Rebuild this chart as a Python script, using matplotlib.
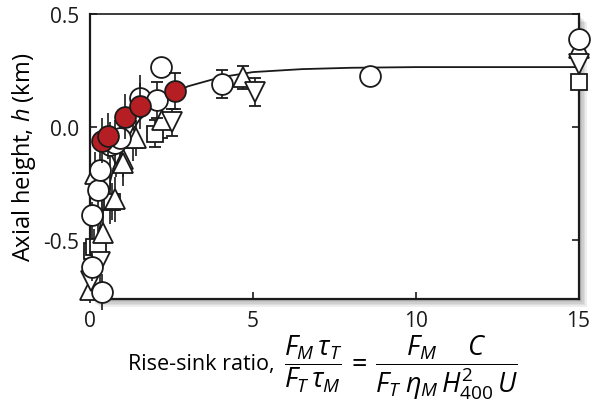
import matplotlib
matplotlib.use("Agg")
import matplotlib.pyplot as plt
from matplotlib.patches import Rectangle

plt.rcParams['font.family'] = ['Open Sans', 'DejaVu Sans']
plt.rcParams['axes.unicode_minus'] = False
plt.rcParams['mathtext.fontset'] = 'custom'
plt.rcParams['mathtext.rm'] = 'Open Sans'
plt.rcParams['mathtext.it'] = 'Open Sans:italic'

# fitted curve
curve_x = [0.05, 0.2, 0.4, 0.7, 1.0, 1.5, 2.0, 2.5, 3.0, 4.0, 5.0, 6.5, 8.0, 10.0, 15.0]
curve_y = [-0.76, -0.52, -0.36, -0.19, -0.08, 0.03, 0.10, 0.145, 0.18, 0.22, 0.243, 0.256, 0.262, 0.265, 0.265]

# open circles
circ_x = [0.37, 0.06, 0.06, 0.25, 0.3, 0.6, 0.75, 0.9, 1.53, 2.05, 2.18, 4.05, 8.6, 15.0]
circ_y = [-0.73, -0.62, -0.39, -0.28, -0.19, -0.08, -0.07, -0.05, 0.13, 0.12, 0.265, 0.19, 0.225, 0.39]
circ_err = [0.08, 0.06, 0.06, 0.08, 0.08, 0.1, 0.1, 0.08, 0.1, 0.08, 0.0, 0.06, 0.0, 0.0]

# squares
sq_x = [0.06, 0.1, 0.25, 0.37, 0.6, 0.67, 2.0, 15.0]
sq_y = [-0.55, -0.53, -0.53, -0.24, -0.33, -0.33, -0.03, 0.2]
sq_err = [0.1, 0.08, 0.1, 0.08, 0.1, 0.08, 0.06, 0.0]

# triangles up
tu_x = [0.0, 0.4, 0.15, 0.77, 1.0, 1.0, 1.3, 1.4, 2.2, 4.7, 15.0]
tu_y = [-0.72, -0.47, -0.21, -0.32, -0.14, -0.16, -0.05, -0.05, 0.03, 0.22, 0.35]
tu_err = [0.06, 0.1, 0.1, 0.1, 0.08, 0.1, 0.1, 0.08, 0.08, 0.05, 0.0]

# triangles down
td_x = [0.03, 0.3, 0.8, 2.5, 5.06, 15.0]
td_y = [-0.68, -0.6, -0.12, 0.02, 0.155, 0.28]
td_err = [0.06, 0.1, 0.1, 0.06, 0.06, 0.0]

# filled red circles
red_x = [0.35, 0.55, 1.07, 1.53, 2.6]
red_y = [-0.06, -0.04, 0.045, 0.093, 0.16]
red_err = [0.1, 0.1, 0.1, 0.1, 0.08]

fig = plt.figure(figsize=(6.02, 4.06), dpi=100)
ax = fig.add_axes([0.15, 0.262, 0.811, 0.701])

# soft drop shadow behind the frame
for i in range(5):
    off = 2 + i * 1.6
    fig.patches.append(Rectangle((0.15 + off / 602, 0.262 - off / 406), 0.811, 0.701,
                                 transform=fig.transFigure, facecolor='#555555',
                                 edgecolor='none', alpha=0.10, zorder=0))
ax.set_facecolor('white')
ax.set_zorder(1)

ax.plot(curve_x, curve_y, color='#1a1a1a', lw=1.3, zorder=2)


def draw(xs, ys, errs, marker, ms, fc, z):
    # error bars in the crowded part have no visible caps, the outer ones do
    for x, y, e in zip(xs, ys, errs):
        cap = 4 if (x > 1.8 and e > 0) else 0
        ax.errorbar([x], [y], yerr=[e], marker=marker, ms=ms, mfc=fc,
                    ecolor='#1a1a1a', elinewidth=1.2, capsize=cap, capthick=1.2,
                    linestyle='none', markeredgecolor='#1a1a1a', markeredgewidth=1.3,
                    clip_on=False, zorder=z)


draw(sq_x, sq_y, sq_err, 's', 11.5, 'white', 3)
draw(tu_x, tu_y, tu_err, '^', 14, 'white', 3)
draw(td_x, td_y, td_err, 'v', 14, 'white', 3)
draw(circ_x, circ_y, circ_err, 'o', 15, 'white', 4)
draw(red_x, red_y, red_err, 'o', 15, '#b51f24', 5)

ax.set_xlim(0, 15)
ax.set_ylim(-0.76, 0.5)
ax.set_xticks([0, 5, 10, 15])
ax.set_yticks([-0.5, 0.0, 0.5])
ax.set_yticklabels(['-0.5', '0.0', '0.5'])
ax.tick_params(direction='in', length=5, width=1.2, labelsize=15, pad=8,
               right=True, top=False, colors='#1a1a1a')
for s in ax.spines.values():
    s.set_linewidth(1.6)
    s.set_color('#1a1a1a')
ax.spines['top'].set_linewidth(1.2)

ax.set_ylabel('Axial height, $h$ (km)', fontsize=17, labelpad=4)

fig.text(0.213, 0.102, 'Rise-sink ratio,', fontsize=15.5, va='center')
fig.text(0.472, 0.094,
         r'$\dfrac{F_M\,\tau_T}{F_T\,\tau_M}\,=\,\dfrac{F_M\quad\ C}{F_T\;\eta_M\,H^2_{400}\,U}$',
         fontsize=19.5, va='center')

fig.savefig('out.png', dpi=100)
